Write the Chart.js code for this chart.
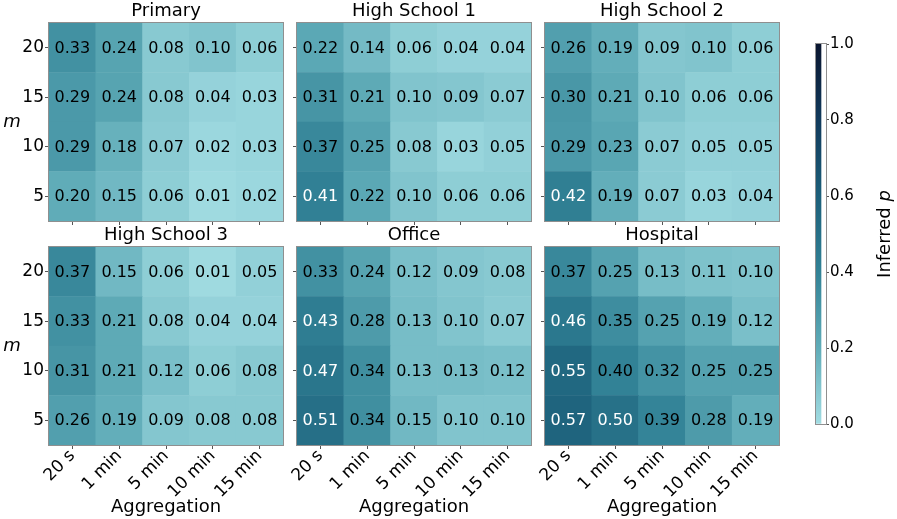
<!DOCTYPE html>
<html><head><meta charset="utf-8">
<script src="https://cdn.jsdelivr.net/npm/chart.js@4.4.1/dist/chart.umd.min.js"></script>
<style>
html,body{margin:0;padding:0;background:#fff;}
#wrap{position:relative;width:897px;height:519px;overflow:hidden;}
#wrap canvas{position:absolute;left:0;top:0;}
</style></head><body><div id="wrap"></div>
<script>
// ---- data ----
const aggregations = ['20 s', '1 min', '5 min', '10 min', '15 min'];
const mValues = ['5', '10', '15', '20']; // bottom row to top row
const panelTitles = ['Primary', 'High School 1', 'High School 2', 'High School 3', 'Office', 'Hospital'];
// each panel: rows m = 5, 10, 15, 20 ; columns = aggregations
const primary = [
  [0.20, 0.15, 0.06, 0.01, 0.02],
  [0.29, 0.18, 0.07, 0.02, 0.03],
  [0.29, 0.24, 0.08, 0.04, 0.03],
  [0.33, 0.24, 0.08, 0.10, 0.06]];
const highSchool1 = [
  [0.41, 0.22, 0.10, 0.06, 0.06],
  [0.37, 0.25, 0.08, 0.03, 0.05],
  [0.31, 0.21, 0.10, 0.09, 0.07],
  [0.22, 0.14, 0.06, 0.04, 0.04]];
const highSchool2 = [
  [0.42, 0.19, 0.07, 0.03, 0.04],
  [0.29, 0.23, 0.07, 0.05, 0.05],
  [0.30, 0.21, 0.10, 0.06, 0.06],
  [0.26, 0.19, 0.09, 0.10, 0.06]];
const highSchool3 = [
  [0.26, 0.19, 0.09, 0.08, 0.08],
  [0.31, 0.21, 0.12, 0.06, 0.08],
  [0.33, 0.21, 0.08, 0.04, 0.04],
  [0.37, 0.15, 0.06, 0.01, 0.05]];
const office = [
  [0.51, 0.34, 0.15, 0.10, 0.10],
  [0.47, 0.34, 0.13, 0.13, 0.12],
  [0.43, 0.28, 0.13, 0.10, 0.07],
  [0.33, 0.24, 0.12, 0.09, 0.08]];
const hospital = [
  [0.57, 0.50, 0.39, 0.28, 0.19],
  [0.55, 0.40, 0.32, 0.25, 0.25],
  [0.46, 0.35, 0.25, 0.19, 0.12],
  [0.37, 0.25, 0.13, 0.11, 0.10]];
const panelValues = [primary, highSchool1, highSchool2, highSchool3, office, hospital];
const colorbarTicks = [0, 0.2, 0.4, 0.6, 0.8, 1.0];

// ---- style ----
const FONT = '"DejaVu Sans", "Liberation Sans", sans-serif';
Chart.defaults.font.family = FONT;
Chart.defaults.color = '#000';
const cmapStops = [[0, [162, 220, 226]], [0.2, [96, 172, 184]], [0.4, [50, 130, 150]],
                   [0.6, [28, 95, 122]], [0.8, [17, 58, 92]], [1, [10, 22, 48]]];
function cmap(v) {
  v = Math.max(0, Math.min(1, v));
  for (let i = 1; i < cmapStops.length; i++) {
    const [p1, c1] = cmapStops[i], [p0, c0] = cmapStops[i - 1];
    if (v <= p1) {
      const t = (v - p0) / (p1 - p0);
      const c = c0.map((a, k) => Math.round(a + (c1[k] - a) * t));
      return `rgb(${c[0]},${c[1]},${c[2]})`;
    }
  }
  const c = cmapStops[cmapStops.length - 1][1];
  return `rgb(${c[0]},${c[1]},${c[2]})`;
}
const FRAME = '#8f8f8f';
const TICKCOL = '#555';

const wrap = document.getElementById('wrap');
function newCanvas() {
  const c = document.createElement('canvas');
  c.width = 897; c.height = 519;
  c.style.width = '897px'; c.style.height = '519px';
  wrap.appendChild(c);
  return c;
}

const heatPlugin = {
  id: 'heat',
  afterDatasetsDraw(chart, args, opts) {
    const { ctx, chartArea: a } = chart;
    ctx.save();
    ctx.font = '16px ' + FONT;
    ctx.textAlign = 'center';
    ctx.textBaseline = 'middle';
    chart.data.datasets.forEach((ds, di) => {
      const meta = chart.getDatasetMeta(di);
      meta.data.forEach((bar, i) => {
        const v = ds.cellValues[i];
        const p = bar.getProps(['x', 'y', 'base'], true);
        ctx.fillStyle = v > 0.405 ? '#fff' : '#000';
        ctx.fillText(v.toFixed(2), p.x, (p.y + p.base) / 2 + 1);
      });
    });
    ctx.strokeStyle = FRAME;
    ctx.lineWidth = 1;
    ctx.strokeRect(Math.round(a.left) - 0.5, Math.round(a.top) - 0.5, Math.round(a.width) + 1, Math.round(a.height) + 1);
    if (opts.mLabel) {
      ctx.fillStyle = '#000';
      ctx.font = 'italic 18px ' + FONT;
      ctx.fillText('m', 12, (a.top + a.bottom) / 2);
    }
    ctx.restore();
  }
};

const colsL = [49, 297, 545], colsR = [283, 531, 779];
const rowsT = [23, 247], rowsB = [221, 445];

panelValues.forEach((values, idx) => {
  const col = idx % 3, row = Math.floor(idx / 3);
  const l = colsL[col], r = colsR[col], t = rowsT[row], b = rowsB[row];
  const showY = col === 0, showX = row === 1;
  const yW = showY ? 30 : 6;
  const xH = showX ? 74 : 6;
  const titleH = 18 * 1.2 + 1;
  const datasets = values.map((rowVals, ri) => ({
    data: rowVals.map(() => [ri, ri + 1]),
    cellValues: rowVals,
    backgroundColor: rowVals.map(v => cmap(v)),
    borderWidth: 0,
    grouped: false,
    barPercentage: 1,
    categoryPercentage: 1
  }));
  new Chart(newCanvas(), {
    type: 'bar',
    data: { labels: aggregations, datasets },
    plugins: [heatPlugin],
    options: {
      responsive: false,
      animation: false,
      events: [],
      layout: { padding: { left: l - yW, right: 897 - r, top: t - titleH, bottom: 519 - b - xH } },
      plugins: {
        legend: { display: false },
        tooltip: { enabled: false },
        title: {
          display: true, text: panelTitles[idx], fullSize: false,
          font: { size: 18, weight: 'normal', family: FONT }, color: '#000',
          padding: { top: 0, bottom: 1 }
        },
        heat: { mLabel: showY }
      },
      scales: {
        x: {
          type: 'category', offset: true,
          grid: { offset: false, drawOnChartArea: false, drawTicks: true, tickLength: 4, color: TICKCOL },
          border: { display: false },
          ticks: { display: showX, autoSkip: false, minRotation: 45, maxRotation: 45, padding: -3, font: { size: 17 } },
          title: { display: showX, text: 'Aggregation', font: { size: 18 }, padding: { top: 0, bottom: 1 } },
          afterFit(s) { s.height = xH; }
        },
        y: {
          type: 'linear', min: 0, max: mValues.length,
          grid: { drawOnChartArea: false, drawTicks: true, tickLength: 4, color: TICKCOL },
          border: { display: false },
          afterBuildTicks(s) { s.ticks = mValues.map((m, i) => ({ value: i + 0.5 })); },
          ticks: {
            display: showY, padding: 1, font: { size: 17 },
            callback: (v) => mValues[Math.round(v - 0.5)]
          },
          afterFit(s) { s.width = yW; }
        }
      }
    }
  });
});

// ---- colorbar ----
const cbPlugin = {
  id: 'cbframe',
  afterDatasetsDraw(chart) {
    const { ctx, chartArea: a } = chart;
    ctx.save();
    ctx.strokeStyle = FRAME;
    ctx.lineWidth = 1;
    ctx.strokeRect(Math.round(a.left) - 0.5, Math.round(a.top) - 0.5, Math.round(a.width) + 1, Math.round(a.height) + 1);
    ctx.translate(885, (a.top + a.bottom) / 2);
    ctx.rotate(-Math.PI / 2);
    ctx.fillStyle = '#000';
    ctx.textBaseline = 'middle';
    const f1 = '18px ' + FONT, f2 = 'italic 18px ' + FONT;
    ctx.font = f1; const w1 = ctx.measureText('Inferred ').width;
    ctx.font = f2; const w2 = ctx.measureText('p').width;
    const x0 = -(w1 + w2) / 2;
    ctx.textAlign = 'left';
    ctx.font = f1; ctx.fillText('Inferred ', x0, 0);
    ctx.font = f2; ctx.fillText('p', x0 + w1, 0);
    ctx.restore();
  }
};
const cbL = 816, cbR = 826, cbT = 44, cbB = 424, cbAxisW = 40;
new Chart(newCanvas(), {
  type: 'bar',
  data: {
    labels: [''],
    datasets: [{
      data: [[colorbarTicks[0], colorbarTicks[colorbarTicks.length - 1]]],
      borderWidth: 0, barPercentage: 1, categoryPercentage: 1,
      backgroundColor: (c) => {
        const ch = c.chart;
        if (!ch.chartArea || !ch.scales.y) return cmap(0.5);
        const ys = ch.scales.y;
        const g = ch.ctx.createLinearGradient(0, ys.getPixelForValue(0), 0, ys.getPixelForValue(1));
        cmapStops.forEach(s => g.addColorStop(s[0], `rgb(${s[1].join(',')})`));
        return g;
      }
    }]
  },
  plugins: [cbPlugin],
  options: {
    responsive: false, animation: false, events: [],
    layout: { padding: { left: cbL, right: 897 - cbR - cbAxisW, top: cbT, bottom: 519 - cbB } },
    plugins: { legend: { display: false }, tooltip: { enabled: false } },
    scales: {
      x: { display: false, offset: false },
      y: {
        position: 'right', type: 'linear', min: 0, max: 1,
        grid: { drawOnChartArea: false, drawTicks: true, tickLength: 3, color: TICKCOL },
        border: { display: false },
        afterBuildTicks(s) { s.ticks = colorbarTicks.map(v => ({ value: v })); },
        ticks: { padding: 1, font: { size: 15 }, callback: (v) => Number(v).toFixed(1) },
        afterFit(s) { s.width = cbAxisW; }
      }
    }
  }
});
</script>
</body></html>
